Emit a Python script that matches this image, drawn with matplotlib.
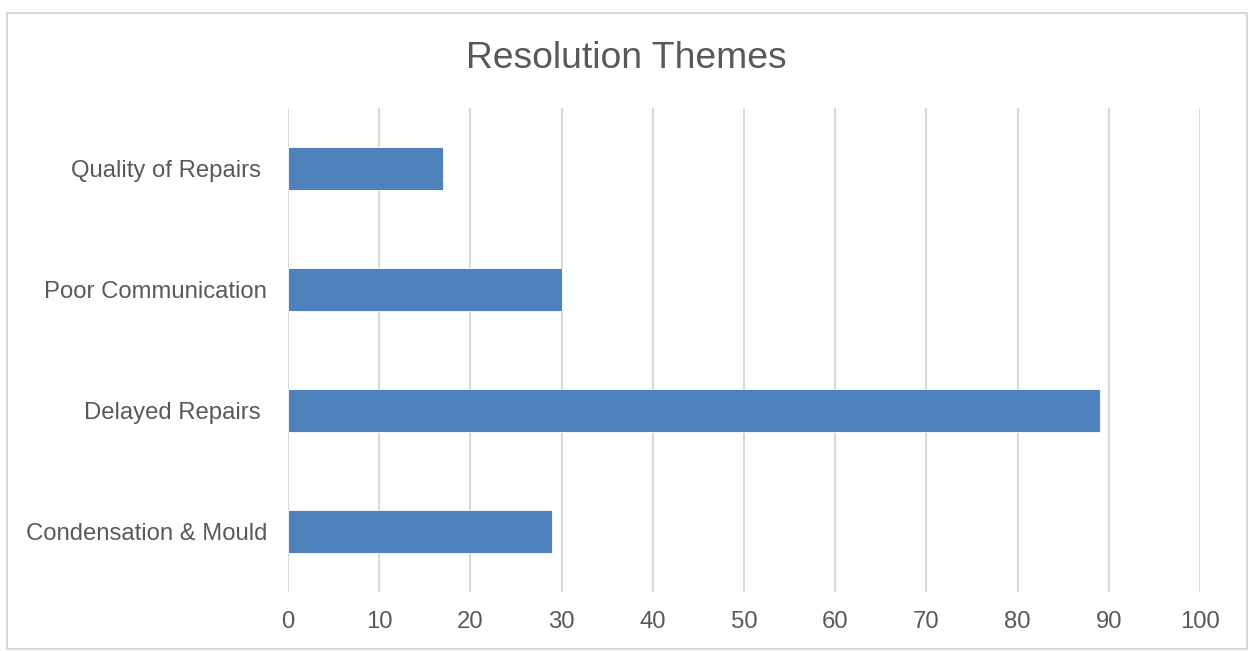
import matplotlib
matplotlib.use("Agg")
import matplotlib.pyplot as plt
from matplotlib.patches import Rectangle

categories = ["Condensation & Mould", "Delayed Repairs ", "Poor Communication", "Quality of Repairs "]
counts = [29, 89, 30, 17]
x_ticks = [0, 10, 20, 30, 40, 50, 60, 70, 80, 90, 100]

plt.rcParams['font.family'] = ['Liberation Sans', 'DejaVu Sans']
text_color = "#595959"
bar_color = "#4f81bd"
grid_color = "#d9d9d9"

W, H = 1252, 651
fig = plt.figure(figsize=(W / 100, H / 100), dpi=100)
fig.patch.set_facecolor("white")

# chart frame
fig.patches.append(Rectangle((7 / W, 1 - 649 / H), (1247 - 7) / W, (649 - 13) / H,
                             transform=fig.transFigure, fill=False,
                             edgecolor=grid_color, linewidth=1.5))

ax = fig.add_axes([288 / W, 1 - 592 / H, (1200 - 288) / W, (592 - 108) / H])
y = range(len(categories))
ax.barh(y, counts, height=0.35, color=bar_color, edgecolor="white", linewidth=0.6, zorder=3)

ax.set_xlim(0, 100)
ax.set_ylim(-0.5, len(categories) - 0.5)
ax.set_xticks(x_ticks)
ax.set_xticklabels([str(t) for t in x_ticks])
ax.set_yticks(list(y))
ax.set_yticklabels(categories)
ax.tick_params(axis="x", length=0, pad=14, labelsize=17.2, labelcolor=text_color)
ax.tick_params(axis="y", length=0, pad=15, labelsize=17.2, labelcolor=text_color)

ax.grid(axis="x", color=grid_color, linewidth=1.5, zorder=0)
for s in ax.spines.values():
    s.set_visible(False)

fig.text(0.5, 1 - 59 / H, "Resolution Themes", ha="center", va="center",
         fontsize=26.8, color=text_color)

fig.savefig("out.png", dpi=100, facecolor="white")
